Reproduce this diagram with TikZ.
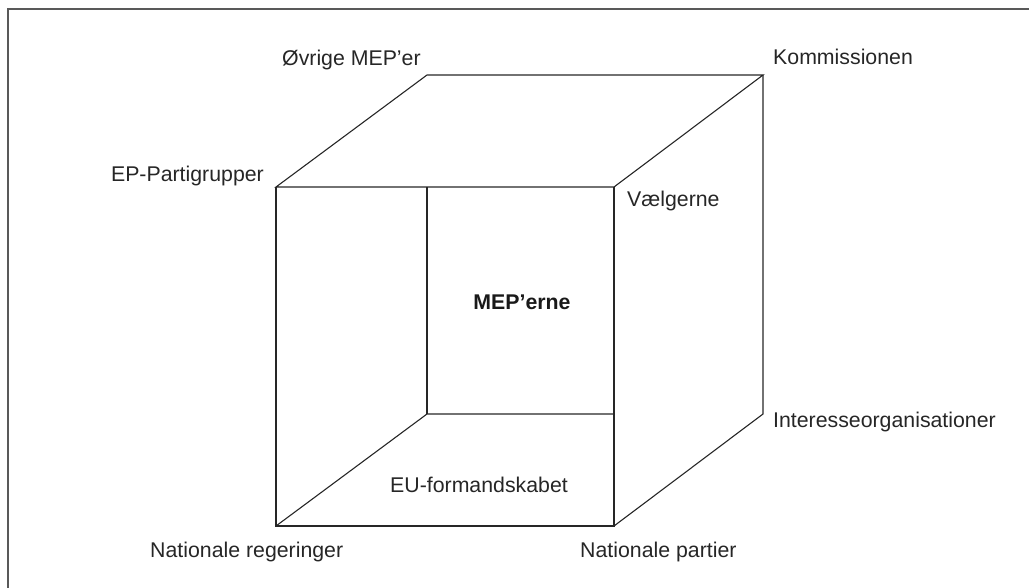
\documentclass[tikz,border=0pt]{standalone}
\usepackage{fontspec}
\setmainfont{Liberation Sans}
\begin{document}
\begin{tikzpicture}[x=1pt,y=-1pt,
  edge/.style={line width=1.1pt,draw=black!85},
  frame/.style={line width=2pt,draw=black!65},
  lbl/.style={inner sep=0pt,font=\fontsize{21.3}{24}\selectfont,text=black!85},
  title/.style={inner sep=0pt,font=\fontsize{21.3}{24}\selectfont\bfseries,text=black!90}]
\useasboundingbox (0,0) rectangle (1029,588);
% frame (only top and left visible)
\coordinate (fc) at (8,9);
\coordinate (fr) at (1029,9);
\coordinate (fb) at (8,588);
\draw[frame] (fb) -- (fc) -- (fr);
% cube vertices
\coordinate (FTL) at (276,187);
\coordinate (FTR) at (614,187);
\coordinate (FBL) at (276,526);
\coordinate (FBR) at (614,526);
\coordinate (BTL) at (427,75);
\coordinate (BTR) at (763,75);
\coordinate (BBR) at (763,414);
\coordinate (BBL) at (427,414);
\coordinate (IT) at (427,187);
\coordinate (IR) at (614,414);
% cube edges
\draw[edge,line join=miter] (FTL) -- (BTL) -- (BTR) -- (FTR) -- cycle;
\draw[edge] (FTL) -- (FBL) -- (FBR) -- (FTR);
\draw[edge] (BTR) -- (BBR) -- (FBR);
\draw[edge] (FBL) -- (BBL) -- (IR);
\draw[edge] (BBL) -- (IT);
% labels
\node[lbl,anchor=base west] (ovr) at (282,66) {Øvrige MEP’er};
\node[lbl,anchor=base east] (epp) at (264,182) {EP-Partigrupper};
\node[lbl,anchor=base west] (kom) at (773,65) {Kommissionen};
\node[lbl,anchor=base west] (vae) at (627,207) {Vælgerne};
\node[title,anchor=base] (mep) at (522,309) {MEP’erne};
\node[lbl,anchor=base] (euf) at (479,492) {EU-formandskabet};
\node[lbl,anchor=base west] (int) at (773,427) {Interesseorganisationer};
\node[lbl,anchor=base west] (nap) at (580,557) {Nationale partier};
\node[lbl,anchor=base west] (nar) at (150,557) {Nationale regeringer};
\end{tikzpicture}
\end{document}
